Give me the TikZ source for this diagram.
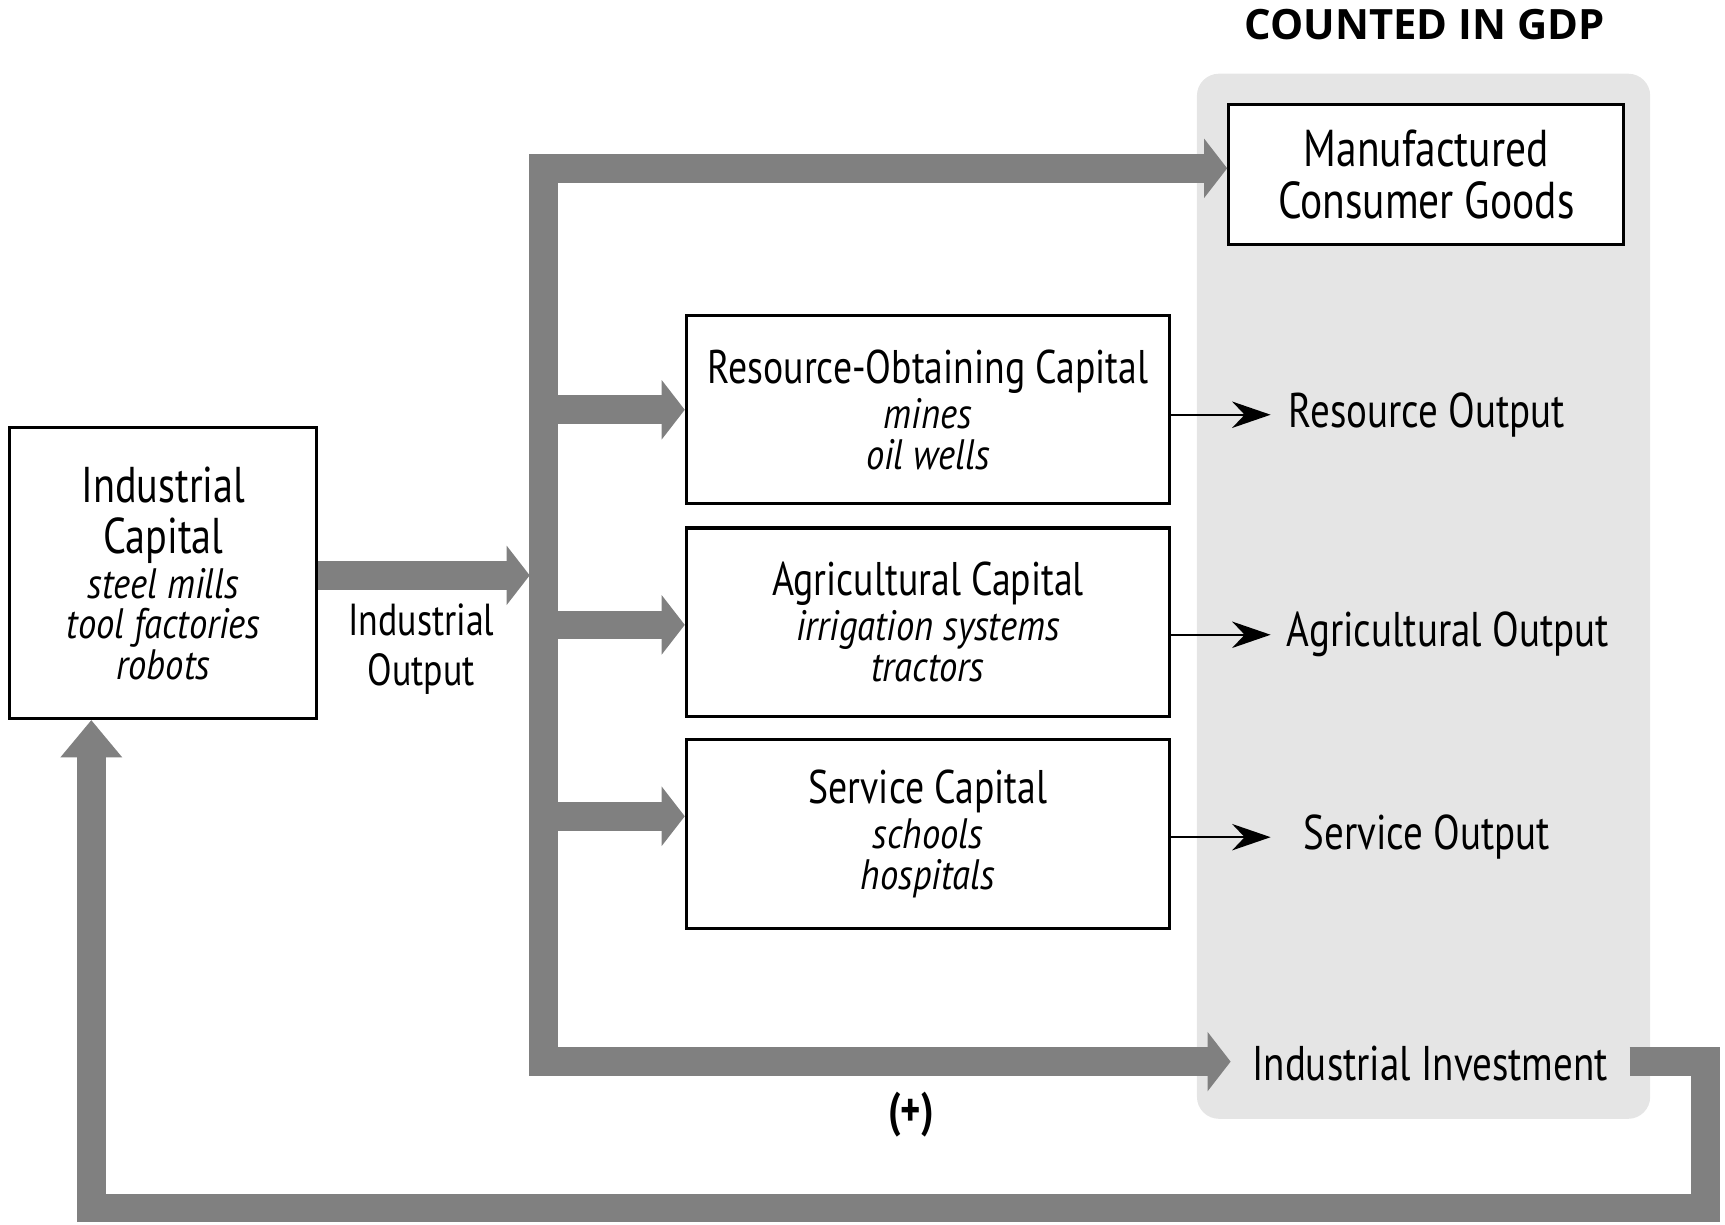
\documentclass[tikz,border=0pt]{standalone}
\usepackage{fontspec}
\setmainfont{PT Sans}[FakeStretch=0.8]
\newfontfamily\headfont{Open Sans}
\newfontfamily\exfont{PT Sans}[FakeStretch=0.86]
\usetikzlibrary{arrows.meta}
\newcommand{\capex}[1]{{\exfont\itshape\fontsize{11}{11}\selectfont #1}}
\begin{document}
\begin{tikzpicture}[x=0.01cm,y=-0.01cm]
    % Define styles for boxes and arrows
    \tikzstyle{capbox}=[draw,thick,fill=white,align=center,inner sep=0pt,
        font=\fontsize{12.2}{14}\selectfont]
    \tikzstyle{outlabel}=[align=center,font=\fontsize{12.6}{14}\selectfont]
    \tikzstyle{flow}=[draw=gray,line width=0.26cm,
        -{Triangle[length=0.21cm,width=0.53cm]}]
    \tikzstyle{thinarrow}=[draw=black,line width=0.5pt,
        -{Stealth[length=0.35cm,width=0.24cm]}]
    \useasboundingbox (0,0) rectangle (1568,1113);

    % Counted in GDP panel
    \fill[gray!20,rounded corners=0.2cm] (1088,67) rectangle (1500,1017);
    \node[font=\headfont\bfseries\fontsize{10.8}{13}\selectfont] (gdp) at (1295,22) {COUNTED IN GDP};

    % Capital boxes
    \node[capbox,minimum width=2.79cm,minimum height=2.64cm,
        font=\fontsize{13}{13.4}\selectfont] (ic) at (148.5,521)
        {Industrial\\ Capital\\[-2pt] \capex{steel mills}\\[-2.9pt]
         \capex{tool factories}\\[-2.9pt] \capex{robots}};
    \node[capbox,minimum width=3.59cm,minimum height=1.27cm,
        font=\fontsize{13.4}{13.6}\selectfont] (mcg) at (1296.5,158.5)
        {Manufactured\\ Consumer Goods};
    \node[capbox,minimum width=4.39cm,minimum height=1.71cm] (roc) at (843.5,372.5)
        {Resource-Obtaining Capital\\[-2.4pt] \capex{mines}\\[-3.3pt] \capex{oil wells}};
    \node[capbox,minimum width=4.39cm,minimum height=1.71cm] (agc) at (843.5,565.5)
        {Agricultural Capital\\[-2.4pt] \capex{irrigation systems}\\[-3.3pt] \capex{tractors}};
    \node[capbox,minimum width=4.39cm,minimum height=1.72cm] (svc) at (843.5,758)
        {Service Capital\\[-2.4pt] \capex{schools}\\[-3.3pt] \capex{hospitals}};

    % Outputs
    \node[outlabel] (ro) at (1297,377) {Resource Output};
    \node[outlabel] (ao) at (1316,577) {Agricultural Output};
    \node[outlabel] (so) at (1297,761) {Service Output};
    \node[outlabel,inner sep=0.19cm] (inv) at (1300,967) {Industrial Investment};
    \node[outlabel,font=\fontsize{11.6}{12.9}\selectfont] (io) at (383,590) {Industrial\\ Output};
    \node[font=\bfseries\fontsize{12.5}{14}\selectfont] (plus) at (828,1013) {(+)};

    % Thin arrows from capital to output
    \coordinate (tip) at (1155,0);
    \foreach \n/\o in {roc/ro, agc/ao, svc/so}{
        \draw[thinarrow] (\n.east |- \o.west) -- (tip |- \o.west);
    }

    % Trunk of industrial output
    \coordinate (top) at (494,153);
    \coordinate (bot) at (494,965);
    \coordinate (trunkin) at (481.5,523);
    \draw[flow,-,line cap=rect] (top) -- (bot);
    \draw[flow] (ic.east |- trunkin) -- (trunkin);
    \draw[flow] (top) -- (top -| mcg.west);
    \draw[flow] (roc.west -| top) -- (roc.west);
    \draw[flow] ([yshift=-0.025cm]agc.west -| top) -- ([yshift=-0.025cm]agc.west);
    \draw[flow] ([yshift=0.16cm]svc.west -| top) -- ([yshift=0.16cm]svc.west);
    \draw[flow] (bot) -- (bot -| inv.west);

    % Feedback loop to industrial capital
    \coordinate (loopR) at (1550,1098);
    \coordinate (loopL) at (83,1098);
    \draw[flow,line join=miter,-{Triangle[length=0.34cm,width=0.54cm]}]
        (inv.east |- bot) -| (loopR) -- (loopL) -- (loopL |- ic.south);
\end{tikzpicture}
\end{document}
